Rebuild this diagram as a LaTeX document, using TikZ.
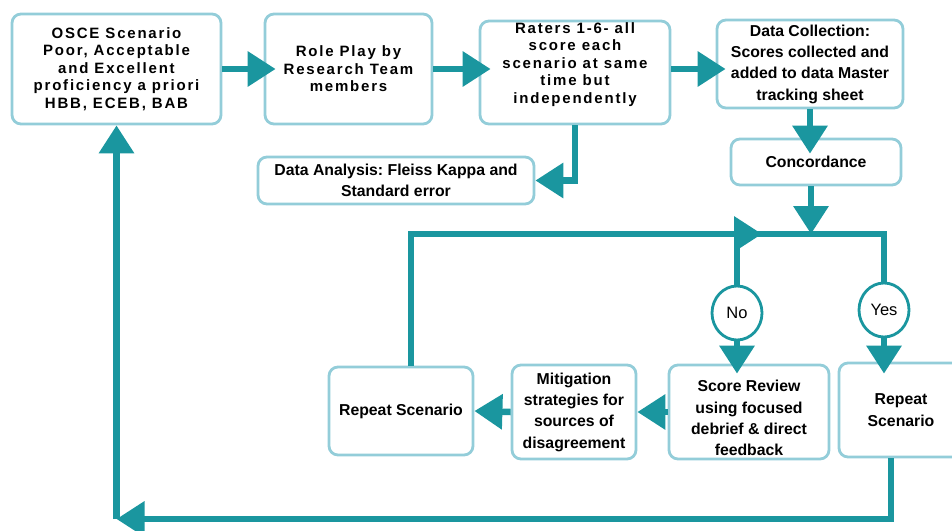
\documentclass[tikz,border=0pt]{standalone}
\usepackage{fontspec}
\setmainfont{Liberation Sans}
\newfontfamily\spacedfont[LetterSpace=12]{Liberation Sans}
\usetikzlibrary{arrows.meta,shapes.geometric}
\definecolor{flowteal}{HTML}{1A969F}
\definecolor{boxblue}{HTML}{93CDD9}
\frenchspacing

\begin{document}
\begin{tikzpicture}[x=1pt,y=-1pt]
	\tikzstyle{box}=[draw=boxblue, line width=2.8pt, rounded corners=9pt, align=center, inner sep=0pt, fill=white]
	\tikzstyle{wide}=[align=center, font=\spacedfont\bfseries\fontsize{15}{17.5}\selectfont]
	\tikzstyle{plain}=[font=\bfseries\fontsize{15.8}{21.3}\selectfont]
	\tikzstyle{decision}=[draw=flowteal, line width=2.8pt, ellipse, minimum width=50pt, minimum height=54pt, inner sep=0pt, font=\fontsize{16.5}{18}\selectfont, fill=white]
	\tikzstyle{flow}=[draw=flowteal, line width=6.5pt, -{Triangle[length=28pt,width=34pt]}]
	\tikzstyle{link}=[draw=flowteal, line width=6.5pt]

	\useasboundingbox (0,0) rectangle (952,530);

	%% boxes
	\node[box, wide, minimum width=209pt, minimum height=110pt] (osce) at (116.5,69) {OSCE Scenario\\Poor, Acceptable\\and Excellent\\proficiency a priori\\HBB, ECEB, BAB};
	\node[box, wide, minimum width=167pt, minimum height=110pt] (role) at (348.5,69) {Role Play by\\Research Team\\members};
	\node[box, minimum width=190pt, minimum height=103pt] (raters) at (575,72.5) {};
	\node[wide] (raterstxt) at (575,64.5) {Raters 1-6- all\\score each\\scenario at same\\time but\\independently};
	\node[box, plain, minimum width=186pt, minimum height=88pt] (dcoll) at (810,64) {Data Collection:\\Scores collected and\\added to data Master\\tracking sheet};
	\node[box, plain, minimum width=170pt, minimum height=46pt] (conc) at (816,162) {Concordance};
	\node[box, plain, minimum width=276pt, minimum height=47pt] (analysis) at (396,180.5) {Data Analysis: Fleiss Kappa and\\Standard error};
	\node[box, plain, minimum width=144pt, minimum height=88pt] (rep1) at (401,411) {Repeat Scenario};
	\node[box, plain, minimum width=124pt, minimum height=94pt] (mit) at (574,412) {Mitigation\\strategies for\\sources of\\disagreement};
	\node[box, minimum width=160pt, minimum height=94pt] (score) at (749,412) {};
	\node[plain, align=center] (scoretxt) at (749,418) {Score Review\\using focused\\debrief \& direct\\feedback};
	\node[box, plain, minimum width=124pt, minimum height=94pt] (rep2) at (901,410) {Repeat\\Scenario};
	\node[decision] (noc) at (737,313) {No};
	\node[decision] (yesc) at (884,310) {Yes};
	\coordinate (split) at (811,234);
	\coordinate (merge) at (762,234);
	\coordinate (back) at (116.5,519);

	%% connectors
	\draw[flow, shorten >=-12pt] (osce.east) -- (role.west);
	\draw[flow, shorten >=-12pt] (role.east) -- (role.east -| raters.west);
	\draw[flow, shorten >=-10pt] (role.east -| raters.east) -- (role.east -| dcoll.west);
	\draw[flow] (raters.south) |- (analysis.east);
	\draw[flow, shorten >=-16pt] (dcoll.south) -- (dcoll.south |- conc.north);
	\draw[flow] (conc.south -| split) -- (split);
	\draw[flow] ([xshift=10pt]rep1.north) |- (merge);
	\draw[link] (noc.north) |- (split) -| (yesc.north);
	\draw[flow, shorten >=-10pt] (noc.south) -- (noc.south |- score.north);
	\draw[flow, shorten >=-12pt] (yesc.south) -- (yesc.south |- rep2.north);
	\draw[flow] (score.west) -- (mit.east);
	\draw[flow] (mit.west) -- (rep1.east);
	\draw[flow] ([xshift=-10pt]rep2.south) |- (back);
	\draw[flow] (back) -- (osce.south);

\end{tikzpicture}
\end{document}
